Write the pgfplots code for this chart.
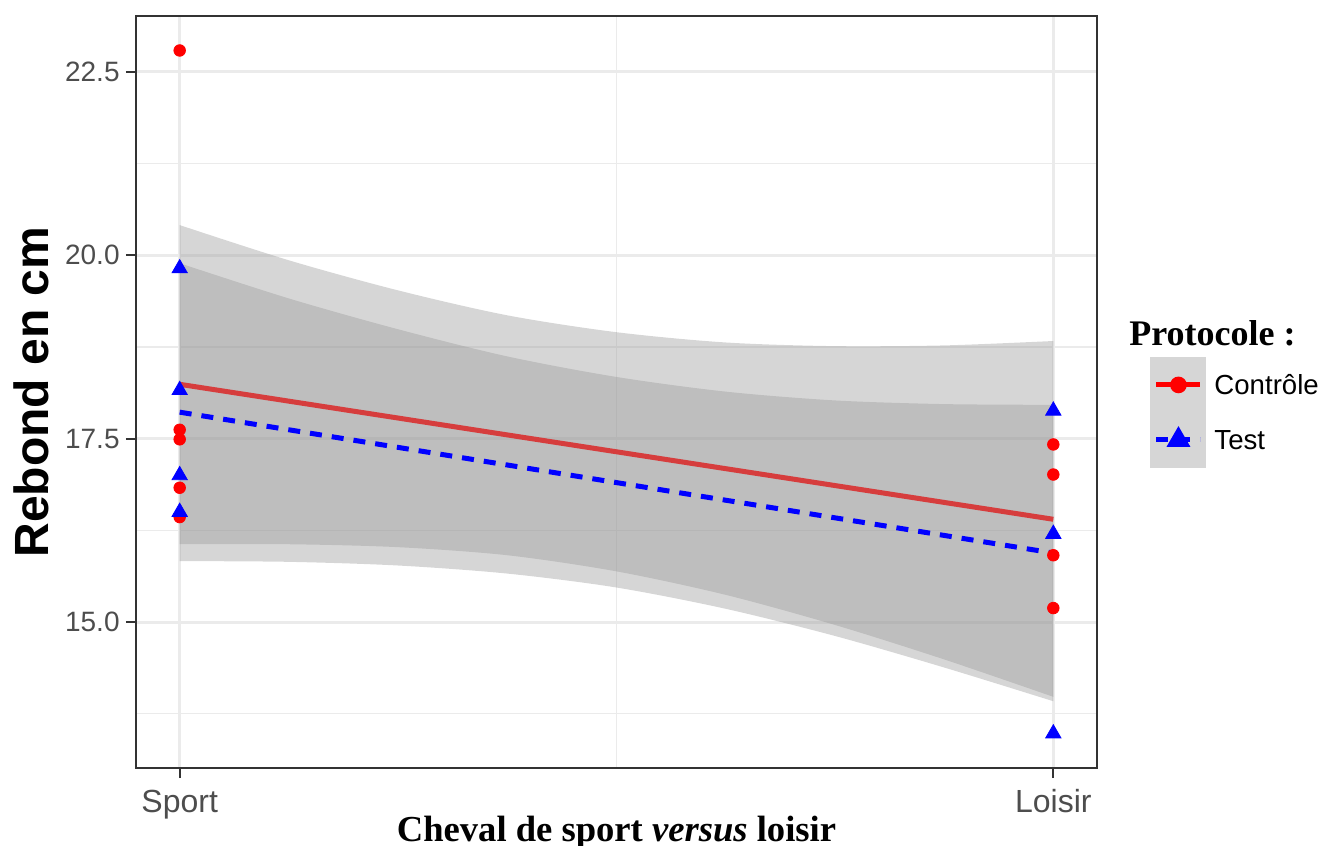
\documentclass[border=0pt]{standalone}
\usepackage{fontspec}
\setmainfont{Liberation Serif}
\setsansfont{Liberation Sans}
\usepackage{pgfplots}
\pgfplotsset{compat=1.18}
\usepgfplotslibrary{fillbetween}

\definecolor{grey20}{RGB}{51,51,51}
\definecolor{grey30}{RGB}{77,77,77}
\definecolor{grey92}{RGB}{235,235,235}
\definecolor{grey60}{RGB}{153,153,153}
\definecolor{keyfill}{RGB}{214,214,214}
\definecolor{redshade}{RGB}{214,61,61}

% legend key: line and one mark
\pgfplotsset{keyimage/.style={legend image code/.code={
    \path[draw=none, fill=none] (0pt,-13.75pt) rectangle (30.5pt,13.75pt);
    \draw[mark repeat=2, mark phase=2, ##1] plot coordinates {(3pt,0pt) (14pt,0pt) (25pt,0pt)};}}}

\begin{document}
\begin{tikzpicture}
\begin{axis}[
    name=ax,
    scale only axis,
    width=480.5pt, height=376pt,
    xmin=0.95, xmax=2.05,
    ymin=13.01, ymax=23.26,
    clip=false,
    xtick={1,2}, xticklabels={Sport,Loisir},
    minor xtick={1.5},
    ytick={15,17.5,20,22.5},
    minor ytick={13.75,16.25,18.75,21.25},
    /pgf/number format/.cd, fixed, fixed zerofill, precision=1, assume math mode=true,
    /pgfplots/.cd,
    grid=both,
    major grid style={draw=grey92, line width=1.5pt},
    minor grid style={draw=grey92, line width=0.75pt},
    axis line style={draw=grey20, line width=1pt},
    tick align=outside,
    xtick pos=bottom, ytick pos=left,
    major tick length=5pt, minor tick length=0pt,
    tick style={draw=grey20, line width=1pt},
    xticklabel style={font=\sffamily\fontsize{16}{16}\selectfont, text=grey30, anchor=base, inner sep=0pt, yshift=-17pt},
    yticklabel style={font=\sffamily\fontsize{14}{14}\selectfont, text=grey30, anchor=east, inner sep=0pt, xshift=-3pt},
    xlabel={Cheval de sport \textit{versus} loisir},
    xlabel style={font=\rmfamily\bfseries\fontsize{18.3}{18.3}\selectfont, at={(axis description cs:0.5,-0.0971)}, anchor=base},
    ylabel={Rebond en cm},
    ylabel style={font=\sffamily\bfseries\fontsize{24}{24}\selectfont, at={(axis description cs:-0.1092,0.5)}, anchor=center},
    legend style={at={(rel axis cs:1.0552,0.5465)}, anchor=north west, draw=none, fill=none,
        inner sep=0pt, row sep=0pt, column sep=1.5pt,
        nodes={inner sep=0pt, text depth=0pt, anchor=west},
        font=\sffamily\fontsize{13.8}{13.8}\selectfont},
    legend cell align=left,
]
% Contrôle : bande de confiance
\addplot[name path=ru, draw=none, smooth, forget plot] coordinates {
 (1.000,20.41) (1.125,19.93) (1.250,19.52) (1.375,19.18) (1.500,18.95)
 (1.625,18.81) (1.750,18.76) (1.875,18.77) (2.000,18.83)};
\addplot[name path=rl, draw=none, smooth, forget plot] coordinates {
 (1.000,16.06) (1.125,16.06) (1.250,16.02) (1.375,15.91) (1.500,15.69)
 (1.625,15.37) (1.750,14.96) (1.875,14.49) (2.000,13.98)};
\addplot[fill=grey60, fill opacity=0.4, draw=none, forget plot] fill between[of=ru and rl];
\addplot[redshade, line width=2.5pt, forget plot] coordinates {(1,18.24) (2,16.40)};

% Test : bande de confiance
\addplot[name path=bu, draw=none, smooth, forget plot] coordinates {
 (1.000,19.89) (1.125,19.41) (1.250,18.99) (1.375,18.62) (1.500,18.34)
 (1.625,18.14) (1.750,18.02) (1.875,17.97) (2.000,17.96)};
\addplot[name path=bl, draw=none, smooth, forget plot] coordinates {
 (1.000,15.83) (1.125,15.82) (1.250,15.77) (1.375,15.66) (1.500,15.47)
 (1.625,15.18) (1.750,14.81) (1.875,14.38) (2.000,13.92)};
\addplot[fill=grey60, fill opacity=0.4, draw=none, forget plot] fill between[of=bu and bl];
\addplot[blue, line width=2.5pt, dash pattern=on 6pt off 5pt, forget plot] coordinates {(1,17.86) (2,15.94)};

% points
\addplot[only marks, mark=*, red, mark size=2.9pt, forget plot] coordinates {
 (1,22.79) (1,17.62) (1,17.49) (1,16.83) (1,16.43)
 (2,17.42) (2,17.01) (2,15.91) (2,15.19)};
\addplot[only marks, mark=triangle*, blue, mark size=4.4pt, forget plot] coordinates {
 (1,19.82) (1,18.16) (1,17.00) (1,16.50)
 (2,17.88) (2,16.20) (2,13.48)};

% fond gris des clés de légende
\fill[keyfill] (rel axis cs:1.0552,0.399) rectangle (rel axis cs:1.1134,0.5465);

\addlegendimage{red, line width=2.5pt, mark=*, mark size=2.9pt, keyimage}
\addlegendentry{Contrôle}
\addlegendimage{blue, line width=2.5pt, dash pattern=on 6pt off 5pt, mark=triangle*, mark size=4.4pt,
  mark options={solid}, keyimage}
\addlegendentry{Test}

\node[anchor=west, font=\rmfamily\bfseries\fontsize{18}{18}\selectfont, inner sep=0pt]
  at (rel axis cs:1.0333,0.5785) {Protocole :};
\end{axis}
\pgfresetboundingbox
\path[use as bounding box] ([shift={(-68pt,-39pt)}]ax.south west) rectangle ([shift={(113pt,8pt)}]ax.north east);
\end{tikzpicture}
\end{document}
